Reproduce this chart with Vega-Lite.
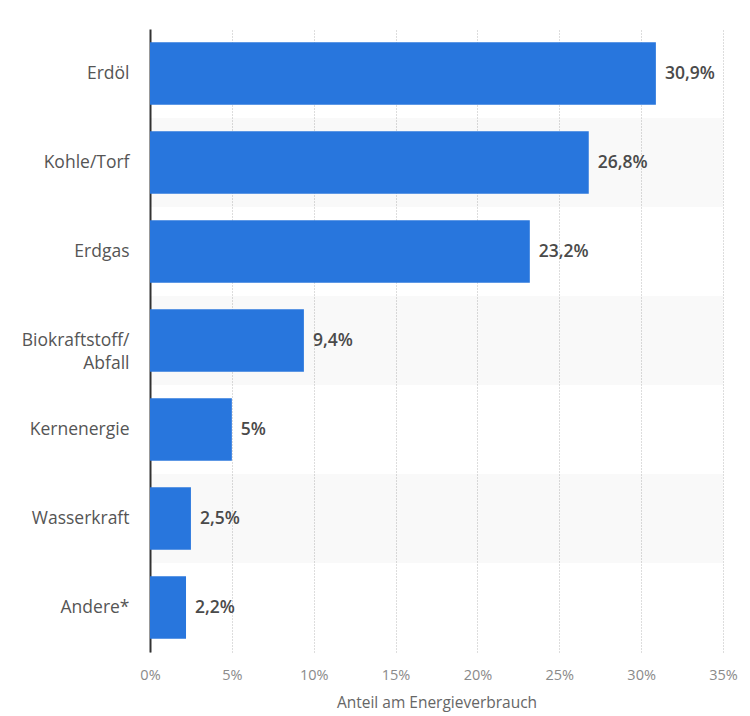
{
  "$schema": "https://vega.github.io/schema/vega-lite/v6.json",
  "width": 573,
  "height": 623,
  "autosize": {"type": "none"},
  "padding": {"left": 150, "top": 29, "right": 27, "bottom": 64},
  "background": "white",
  "data": {
    "values": [
      {"source": "Erdöl", "value": 30.9},
      {"source": "Kohle/Torf", "value": 26.8},
      {"source": "Erdgas", "value": 23.2},
      {"source": "Biokraftstoff/Abfall", "value": 9.4},
      {"source": "Kernenergie", "value": 5},
      {"source": "Wasserkraft", "value": 2.5},
      {"source": "Andere*", "value": 2.2}
    ]
  },
  "encoding": {
    "y": {
      "field": "source",
      "type": "nominal",
      "sort": ["Erdöl", "Kohle/Torf", "Erdgas", "Biokraftstoff/Abfall", "Kernenergie", "Wasserkraft", "Andere*"],
      "scale": {"paddingInner": 0, "paddingOuter": 0},
      "axis": {
        "title": null,
        "ticks": false,
        "domain": true,
        "domainColor": "#333333",
        "domainWidth": 2,
        "labelFont": "Open Sans",
        "labelFontSize": 17.5,
        "labelColor": "#555555",
        "labelPadding": 21,
        "labelLineHeight": 23,
        "labelLimit": 200,
        "labelExpr": "datum.label == 'Biokraftstoff/Abfall' ? ['Biokraftstoff/', 'Abfall'] : datum.label"
      }
    }
  },
  "layer": [
    {
      "transform": [{"filter": "indexof(['Kohle/Torf','Biokraftstoff/Abfall','Wasserkraft'], datum.source) >= 0"}],
      "mark": {"type": "bar", "color": "#000000", "opacity": 0.025, "height": {"band": 1}},
      "encoding": {
        "x": {"datum": 0, "type": "quantitative"},
        "x2": {"datum": 35}
      }
    },
    {
      "mark": {"type": "bar", "color": "#2876dd", "height": {"band": 0.7}},
      "encoding": {
        "x": {
          "field": "value",
          "type": "quantitative",
          "scale": {"domain": [0, 35], "nice": false},
          "axis": {
            "title": "Anteil am Energieverbrauch",
            "values": [0, 5, 10, 15, 20, 25, 30, 35],
            "labelExpr": "datum.value + '%'",
            "labelFlush": false,
            "domain": false,
            "ticks": false,
            "grid": true,
            "gridColor": "#bbbbbb",
            "gridDash": [1, 2],
            "gridWidth": 1,
            "labelFont": "Open Sans",
            "labelFontSize": 14.5,
            "labelColor": "#8a8a8a",
            "labelPadding": 16,
            "titleFont": "Open Sans",
            "titleFontSize": 15.5,
            "titleFontWeight": "normal",
            "titleColor": "#666666",
            "titlePadding": 14
          }
        }
      }
    },
    {
      "transform": [{"calculate": "replace(toString(datum.value), '.', ',') + '%'", "as": "label"}],
      "mark": {"type": "text", "align": "left", "baseline": "middle", "dx": 9, "font": "Open Sans", "fontSize": 17.5, "fontWeight": 600, "color": "#4a4a4a"},
      "encoding": {
        "x": {"field": "value", "type": "quantitative"},
        "text": {"field": "label"}
      }
    }
  ],
  "config": {"view": {"stroke": null}}
}
